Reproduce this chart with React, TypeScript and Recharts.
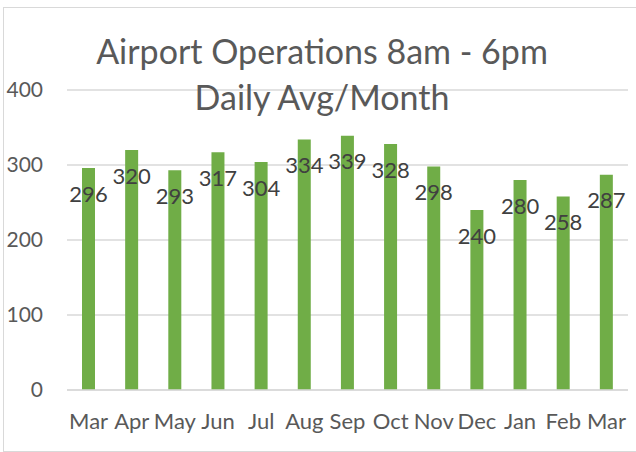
import React from 'react';
import { BarChart, Bar, XAxis, YAxis, CartesianGrid, LabelList } from 'recharts';

const months = ['Mar', 'Apr', 'May', 'Jun', 'Jul', 'Aug', 'Sep', 'Oct', 'Nov', 'Dec', 'Jan', 'Feb', 'Mar'];
const dailyAvg = [296, 320, 293, 317, 304, 334, 339, 328, 298, 240, 280, 258, 287];
const yTicks = [0, 100, 200, 300, 400];
const titleLines = ['Airport Operations 8am - 6pm', 'Daily Avg/Month'];

const data = months.map((m, i) => ({ key: i, month: m, value: dailyAvg[i] }));

const FONT = 'Lato, "Open Sans", sans-serif';

export default function App() {
  return (
    <div style={{ position: 'absolute', left: 0, top: 0, width: 636, height: 452, background: '#fff', fontFamily: FONT }}>
      <div style={{ position: 'absolute', left: 3, top: 7, width: 640, height: 443, border: '1px solid #d9d9d9' }} />
      <BarChart
        width={636}
        height={452}
        data={data}
        margin={{ top: 90, right: 8, bottom: 0, left: 0 }}
        barSize={13}
      >
        <CartesianGrid vertical={false} stroke="#d9d9d9" strokeWidth={1.5} />
        <XAxis
          dataKey="key"
          height={62}
          tickFormatter={(i: number) => months[i]}
          interval={0}
          tickLine={false}
          axisLine={{ stroke: '#d9d9d9', strokeWidth: 1.5 }}
          tickSize={0}
          tickMargin={23}
          tick={{ fill: '#595959', fontSize: 22, fontFamily: FONT }}
        />
        <YAxis
          domain={[0, 400]}
          ticks={yTicks}
          width={67}
          tickLine={false}
          axisLine={false}
          tickSize={0}
          tickMargin={24}
          tick={{ fill: '#595959', fontSize: 21, fontFamily: FONT }}
        />
        <Bar dataKey="value" fill="#70ad47" isAnimationActive={false}>
          <LabelList
            dataKey="value"
            position="insideTop"
            offset={18}
            fill="#404040"
            fontSize={22}
            fontFamily={FONT}
          />
        </Bar>
      </BarChart>
      <div
        style={{
          position: 'absolute',
          left: 0,
          top: 28,
          width: 644,
          textAlign: 'center',
          color: '#595959',
          fontSize: 34,
          lineHeight: '46px',
          pointerEvents: 'none',
        }}
      >
        {titleLines.map((t) => (
          <div key={t}>{t}</div>
        ))}
      </div>
    </div>
  );
}
